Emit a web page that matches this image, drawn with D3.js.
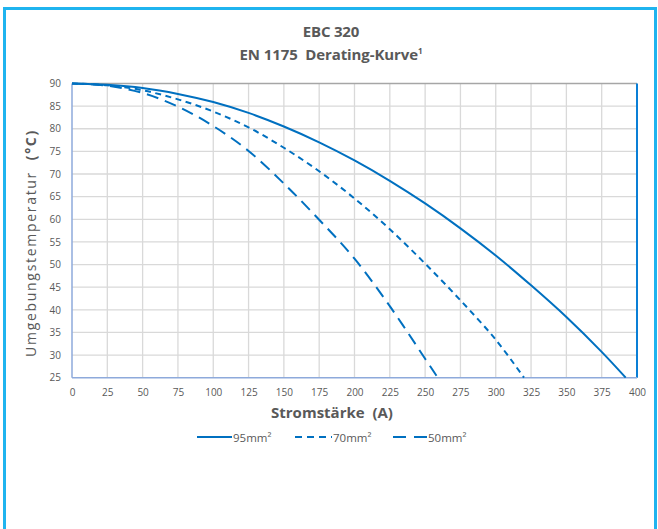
<!DOCTYPE html>
<html><head><meta charset="utf-8">
<script src="https://cdn.jsdelivr.net/npm/d3@7"></script>
<style>body{margin:0;background:#fff}svg{display:block}text{white-space:pre}</style>
</head><body>
<svg id="chart" width="658" height="529"></svg>
<script>
const xTicks = [0,25,50,75,100,125,150,175,200,225,250,275,300,325,350,375,400];
const yTicks = [25,30,35,40,45,50,55,60,65,70,75,80,85,90];
const current95 = [0,25,50,75,100,125,150,175,200,225,250,275,300,325,350,375,392];
const temp95    = [90,89.7,89.0,87.7,85.9,83.5,80.5,77.0,73.0,68.5,63.5,58.0,52.0,45.4,38.4,30.7,25];
const current70 = [0,25,50,75,100,125,150,175,200,225,250,275,300,320];
const temp70    = [90,89.6,88.5,86.5,83.8,80.3,75.8,70.6,64.6,57.8,50.2,42.1,33.4,25];
const current50 = [0,25,50,75,100,125,150,175,200,225,250,259];
const temp50    = [90,89.5,87.9,84.9,80.6,75.1,67.9,59.9,51.3,40.8,29.2,25];
const seriesNames = ["95mm²","70mm²","50mm²"];

const svg = d3.select("#chart");
const blue = "#0070c0";
const txt = "#595959";
const font = "'Open Sans', 'Noto Sans', sans-serif";

// outer frame
svg.append("rect").attr("x",4.5).attr("y",8.5).attr("width",651).attr("height",540)
  .attr("fill","none").attr("stroke","#1fb4ef").attr("stroke-width",3);

const x = d3.scaleLinear().domain([0,400]).range([72,637]);
const y = d3.scaleLinear().domain([25,90]).range([377.7,83.5]);

// titles
svg.append("text").attr("x",331).attr("y",37).attr("text-anchor","middle")
  .attr("font-family",font).attr("font-weight","bold").attr("font-size",15).attr("fill",txt)
  .attr("letter-spacing","-0.2").text("EBC 320");
const t2 = svg.append("text").attr("x",331).attr("y",60).attr("text-anchor","middle")
  .attr("font-family",font).attr("font-weight","bold").attr("font-size",15).attr("fill",txt)
  .attr("letter-spacing","-0.1");
t2.append("tspan").text("EN 1175  Derating-Kurve");
t2.append("tspan").attr("font-size",8).attr("dy",-6).text("1");

// grid
const g = svg.append("g");
g.selectAll(".vg").data(xTicks.slice(1,-1)).join("line")
  .attr("x1",d=>x(d)).attr("x2",d=>x(d)).attr("y1",y(90)).attr("y2",y(25))
  .attr("stroke","#d9d9d9").attr("stroke-width",1.3);
g.selectAll(".hg").data(yTicks.slice(1,-1)).join("line")
  .attr("x1",x(0)).attr("x2",x(400)).attr("y1",d=>y(d)).attr("y2",d=>y(d))
  .attr("stroke","#d9d9d9").attr("stroke-width",1.3);

// axes
const xAxis = d3.axisBottom(x).tickValues(xTicks).tickSize(0).tickPadding(11);
const yAxis = d3.axisLeft(y).tickValues(yTicks).tickSize(0).tickPadding(11);
const gx = svg.append("g").attr("transform",`translate(0,${y(25)})`).call(xAxis);
const gy = svg.append("g").attr("transform",`translate(${x(0)},0)`).call(yAxis);
[gx,gy].forEach(a=>{
  a.select(".domain").remove();
  a.selectAll("text").attr("font-family",font).attr("font-size",10).attr("fill",txt);
});

// plot border
svg.append("line").attr("x1",x(0)).attr("x2",x(400)).attr("y1",y(90)).attr("y2",y(90)).attr("stroke","#a6a6a6").attr("stroke-width",1.5);
svg.append("line").attr("x1",x(400)).attr("x2",x(400)).attr("y1",y(90)).attr("y2",y(25)).attr("stroke","#0a7fd6").attr("stroke-width",2);
svg.append("line").attr("x1",x(0)).attr("x2",x(0)).attr("y1",y(90)).attr("y2",y(25)).attr("stroke","#8eaadb").attr("stroke-width",1.5);
svg.append("line").attr("x1",x(0)).attr("x2",x(400)).attr("y1",y(25)).attr("y2",y(25)).attr("stroke","#8eaadb").attr("stroke-width",1.5);

// lines
const series = [
  {xs:current95, ys:temp95, dash:null},
  {xs:current70, ys:temp70, dash:"6,4.5"},
  {xs:current50, ys:temp50, dash:"12,7"}
];
const line = d3.line().x(d=>x(d[0])).y(d=>y(d[1])).curve(d3.curveCatmullRom);
series.forEach(s=>{
  svg.append("path").datum(s.xs.map((v,i)=>[v,s.ys[i]]))
    .attr("d",line).attr("fill","none").attr("stroke",blue).attr("stroke-width",2)
    .attr("stroke-dasharray",s.dash);
});

// axis titles
svg.append("text").attr("x",332).attr("y",418).attr("text-anchor","middle")
  .attr("font-family",font).attr("font-weight","bold").attr("font-size",15).attr("fill",txt)
  .text("Stromstärke  (A)");
const yl = svg.append("text").attr("transform","translate(36,243) rotate(-90)").attr("text-anchor","middle")
  .attr("font-family",font).attr("font-size",14).attr("fill",txt).attr("letter-spacing","1.7");
yl.append("tspan").text("Umgebungstemperatur  ");
yl.append("tspan").attr("font-weight","bold").text("(°C)");

// legend
const legX = [197,295,393];
const legW = [35,37,34];
const legend = svg.append("g");
series.forEach((s,i)=>{
  legend.append("line").attr("x1",legX[i]).attr("x2",legX[i]+legW[i]).attr("y1",437).attr("y2",437)
    .attr("stroke",blue).attr("stroke-width",2).attr("stroke-dasharray",i==1?"7,5":(i==2?"13,8":null));
  legend.append("text").attr("x",legX[i]+legW[i]+1).attr("y",441.5).attr("font-family",font)
    .attr("font-size",11.5).attr("fill",txt).text(seriesNames[i]);
});
</script>
</body></html>
